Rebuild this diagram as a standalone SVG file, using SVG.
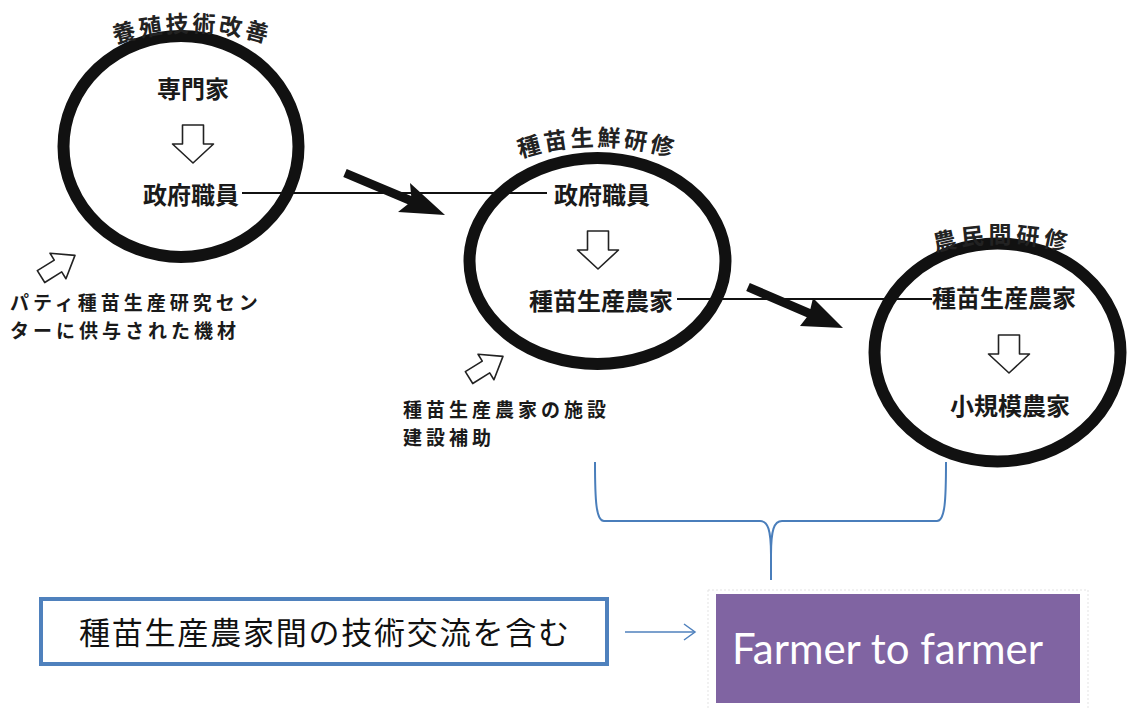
<svg xmlns="http://www.w3.org/2000/svg" width="1128" height="710" viewBox="0 0 1128 710">
<style>
.ring{fill:none;stroke:#111;stroke-width:12}
.jt{font-family:"Noto Sans CJK JP","Noto Sans CJK SC",sans-serif;font-weight:bold;fill:#1a1a1a}
.cap{font-family:"Noto Sans CJK JP","Noto Sans CJK SC",sans-serif;font-weight:bold;fill:#222;font-size:23px}
.note{font-family:"Noto Sans CJK JP","Noto Sans CJK SC",sans-serif;font-weight:bold;fill:#1a1a1a;font-size:19px;letter-spacing:4px}
.link{stroke:#111;stroke-width:2;fill:none}
.big{fill:#111}
.blk{fill:#fff;stroke:#222;stroke-width:1.6;stroke-linejoin:round}
.brace{fill:none;stroke:#4a7ebb;stroke-width:2}
</style>
<defs>
<path id="down" d="M-10.5,0 H10.5 V19 H20.5 L0,38 L-20.5,19 H-10.5 Z"/>
<path id="side" d="M-20,-7 H0 V-15 L20,0 L0,15 V7 H-20 Z"/>
<path id="arc1" d="M 42,82 A 250 250 0 0 1 342,82"/>
<path id="arc2" d="M 447,196 A 250 250 0 0 1 747,196"/>
<path id="arc3" d="M 852,293 A 250 250 0 0 1 1152,293"/>
</defs>

<g id="connectors">
<line class="link" x1="242" y1="193" x2="547" y2="193"/>
<line class="link" x1="677" y1="299" x2="932" y2="299"/>
<polygon class="big" points="346.7,168.9 411.2,196 410,183 445,215 398,212 407.8,204.2 343.3,177.1"/>
<polygon class="big" points="749.8,282.9 810.4,309 813,298 843,328 800,326 806.8,317.2 746.2,291.1"/>
<path class="brace" d="M 595,462 C 595,500 596,521 604,521 L 760,521 C 768,521 771,530 771,555 L 771,580 M 771,555 C 771,530 774,521 782,521 L 937,521 C 945,521 946,500 946,462"/>
<line x1="625" y1="632" x2="695" y2="632" stroke="#4f81bd" stroke-width="1.5"/>
<path d="M 684,624 L 695,632 L 684,640" fill="none" stroke="#4f81bd" stroke-width="1.5"/>
</g>

<g id="circle1">
<ellipse class="ring" cx="181" cy="146.5" rx="117.5" ry="110.5"/>
<text class="cap"><textPath href="#arc1" startOffset="50%" text-anchor="middle" letter-spacing="3">養殖技術改善</textPath></text>
<text class="jt" x="193" y="98" font-size="24" text-anchor="middle">専門家</text>
<use href="#down" class="blk" x="193" y="125"/>
<text class="jt" x="191" y="204" font-size="24" text-anchor="middle">政府職員</text>
</g>

<g id="circle2">
<ellipse class="ring" cx="597.5" cy="261" rx="128" ry="103" stroke-width="13"/>
<text class="cap"><textPath href="#arc2" startOffset="50%" text-anchor="middle" letter-spacing="3">種苗生鮮研修</textPath></text>
<text class="jt" x="602" y="204" font-size="24" text-anchor="middle">政府職員</text>
<use href="#down" class="blk" x="598" y="231"/>
<text class="jt" x="601" y="310" font-size="24" text-anchor="middle">種苗生産農家</text>
</g>

<g id="circle3">
<ellipse class="ring" cx="997.5" cy="352.5" rx="123" ry="109" stroke-width="13"/>
<text class="cap"><textPath href="#arc3" startOffset="50%" text-anchor="middle" letter-spacing="4">農民間研修</textPath></text>
<text class="jt" x="1004" y="307" font-size="24" text-anchor="middle">種苗生産農家</text>
<use href="#down" class="blk" x="1009" y="335"/>
<text class="jt" x="1010" y="415" font-size="24" text-anchor="middle">小規模農家</text>
</g>

<g id="input1">
<use href="#side" class="blk" transform="translate(58,266) rotate(-32)"/>
<text class="note" x="10" y="310">パティ種苗生産研究セン<tspan x="10" y="338">ターに供与された機材</tspan></text>
</g>

<g id="input2">
<use href="#side" class="blk" transform="translate(486,367) rotate(-32)"/>
<text class="note" x="403" y="417">種苗生産農家の施設<tspan x="403" y="445">建設補助</tspan></text>
</g>

<g id="note-box">
<rect x="41" y="599" width="566" height="65" fill="#fff" stroke="#4f81bd" stroke-width="4"/>
<text x="324" y="644" font-family="Noto Sans CJK JP, Noto Sans CJK SC, sans-serif" font-size="31" fill="#111" text-anchor="middle" textLength="490" lengthAdjust="spacing">種苗生産農家間の技術交流を含む</text>
</g>

<g id="farmer-box">
<rect x="708" y="590" width="380" height="125" fill="none" stroke="#e3e3e3" stroke-width="1" stroke-dasharray="2,2"/>
<rect x="716" y="594" width="364" height="109" fill="#8064a2"/>
<text x="732" y="664" font-family="Lato, 'Open Sans', sans-serif" font-size="42" fill="#fff" textLength="311" lengthAdjust="spacingAndGlyphs">Farmer to farmer</text>
</g>
</svg>
